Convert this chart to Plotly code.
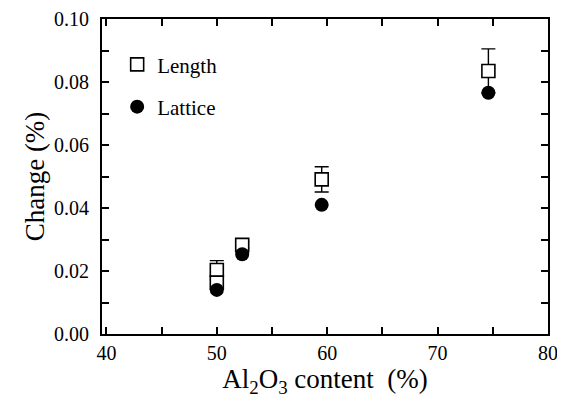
import plotly.graph_objects as go

# Length (dilatometer) data
length_x = [50.0, 50.0, 52.3, 59.5, 74.6]
length_y = [0.0203, 0.0163, 0.0283, 0.0491, 0.0835]
length_err = [0.003, 0.002, 0.001, 0.004, 0.007]

# Lattice data
lattice_x = [50.0, 52.3, 59.5, 74.6]
lattice_y = [0.0140, 0.0253, 0.0410, 0.0766]

x_ticks = [40, 50, 60, 70, 80]
y_ticks = [0.00, 0.02, 0.04, 0.06, 0.08, 0.10]

font_family = "Liberation Serif"

fig = go.Figure()
fig.add_trace(go.Scatter(
    x=length_x, y=length_y, mode="markers", name="Length",
    legendgroup="a",
    marker=dict(symbol="square", size=13, color="white",
                line=dict(color="black", width=1.6)),
    error_y=dict(type="data", array=length_err, visible=True,
                 color="black", thickness=1.4, width=7),
))
fig.add_trace(go.Scatter(
    x=lattice_x, y=lattice_y, mode="markers", name="Lattice",
    legendgroup="b",
    marker=dict(symbol="circle", size=14, color="black",
                line=dict(color="black", width=0)),
))

axis_common = dict(
    showline=True, linecolor="black", linewidth=2, mirror="ticks",
    ticks="inside", ticklen=7, tickwidth=1.5, tickcolor="black",
    showgrid=False, zeroline=False, automargin=False,
    tickfont=dict(family=font_family, size=20, color="black"),
)

fig.update_xaxes(
    range=[39.6, 80.0], tickvals=x_ticks,
    ticklabelstandoff=0,
    minor=dict(dtick=5, tick0=40, ticks="inside", ticklen=7, tickwidth=1.5, tickcolor="black"),
    title=dict(text="Al<sub>2</sub>O<sub>3</sub> content  (%)",
               font=dict(family=font_family, size=27, color="black"), standoff=4),
    **axis_common,
)
fig.update_yaxes(
    range=[0.0, 0.1], tickvals=y_ticks, tickformat=".2f",
    ticklabelstandoff=7,
    minor=dict(dtick=0.01, tick0=0, ticks="inside", ticklen=7, tickwidth=1.5, tickcolor="black"),
    title=dict(text="Change (%)",
               font=dict(family=font_family, size=27, color="black"), standoff=2),
    **axis_common,
)

# The page body adds an 8 px offset; size and margins compensate for it.
fig.update_layout(
    width=557, height=398,
    margin=dict(l=94, r=17, t=11, b=72),
    paper_bgcolor="white", plot_bgcolor="white",
    font=dict(family=font_family, color="black"),
    legend=dict(x=0.034, y=0.92, xanchor="left", yanchor="top",
                bgcolor="rgba(0,0,0,0)", borderwidth=0,
                font=dict(family=font_family, size=21, color="black"),
                tracegroupgap=12, itemwidth=30),
    showlegend=True,
)

fig.write_html("out.html")
